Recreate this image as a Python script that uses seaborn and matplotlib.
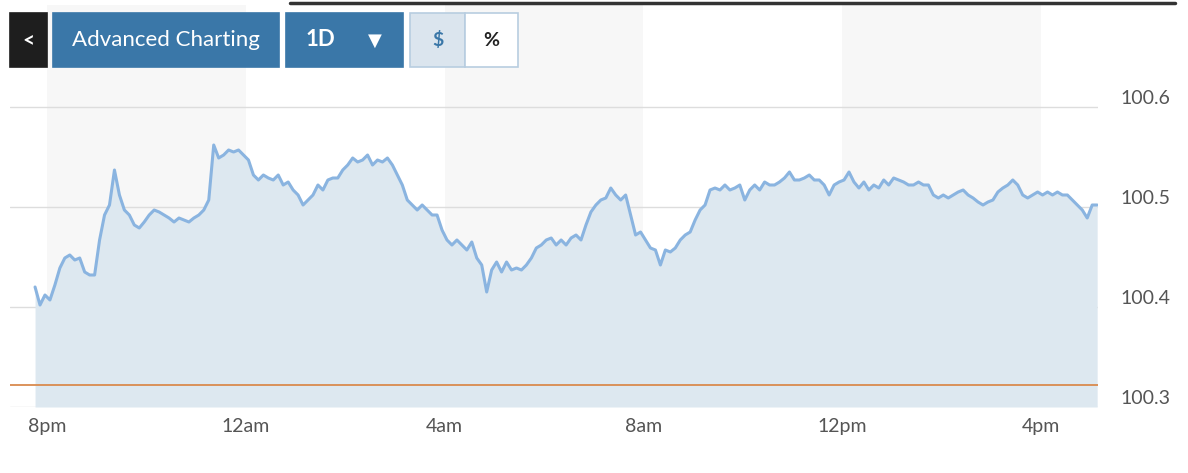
import numpy as np
import pandas as pd
import matplotlib
matplotlib.use("Agg")
import matplotlib.pyplot as plt
import matplotlib.transforms as mtransforms
from matplotlib.patches import Rectangle
import seaborn as sns

# price series, evenly spaced from ~7:45pm to ~4:55pm
prices = [
    100.420, 100.402, 100.412, 100.407, 100.422, 100.439, 100.449, 100.452, 100.447, 100.449,
    100.435, 100.432, 100.432, 100.467, 100.492, 100.502, 100.537, 100.512, 100.497, 100.492,
    100.482, 100.479, 100.485, 100.492, 100.497, 100.495, 100.492, 100.489, 100.485, 100.489,
    100.487, 100.485, 100.489, 100.492, 100.497, 100.507, 100.562, 100.549, 100.552, 100.557,
    100.555, 100.557, 100.552, 100.547, 100.532, 100.527, 100.532, 100.529, 100.527, 100.532,
    100.522, 100.525, 100.517, 100.512, 100.502, 100.507, 100.512, 100.522, 100.517, 100.527,
    100.529, 100.529, 100.537, 100.542, 100.549, 100.545, 100.547, 100.552, 100.542, 100.547,
    100.545, 100.549, 100.542, 100.532, 100.522, 100.507, 100.502, 100.497, 100.502, 100.497,
    100.492, 100.492, 100.477, 100.467, 100.462, 100.467, 100.462, 100.457, 100.465, 100.449,
    100.442, 100.415, 100.437, 100.445, 100.435, 100.445, 100.437, 100.439, 100.437, 100.442,
    100.449, 100.459, 100.462, 100.467, 100.469, 100.462, 100.467, 100.462, 100.469, 100.472,
    100.467, 100.482, 100.495, 100.502, 100.507, 100.509, 100.519, 100.512, 100.507, 100.512,
    100.492, 100.472, 100.475, 100.467, 100.459, 100.457, 100.442, 100.457, 100.455, 100.459,
    100.467, 100.472, 100.475, 100.487, 100.497, 100.502, 100.517, 100.519, 100.517, 100.522,
    100.517, 100.519, 100.522, 100.507, 100.517, 100.522, 100.517, 100.525, 100.522, 100.522,
    100.525, 100.529, 100.535, 100.527, 100.527, 100.529, 100.532, 100.527, 100.527, 100.522,
    100.512, 100.522, 100.525, 100.527, 100.535, 100.525, 100.519, 100.525, 100.517, 100.522,
    100.519, 100.527, 100.522, 100.529, 100.527, 100.525, 100.522, 100.522, 100.525, 100.522,
    100.522, 100.512, 100.509, 100.512, 100.509, 100.512, 100.515, 100.517, 100.512, 100.509,
    100.505, 100.502, 100.505, 100.507, 100.515, 100.519, 100.522, 100.527, 100.522, 100.512,
    100.509, 100.512, 100.515, 100.512, 100.515, 100.512, 100.515, 100.512, 100.512, 100.507,
    100.502, 100.497, 100.489, 100.502, 100.502,
]
start_hour, end_hour = 19.76, 41.13
prev_close = 100.322
tick_hours = [20, 24, 28, 32, 36, 40]
tick_labels = ["8pm", "12am", "4am", "8am", "12pm", "4pm"]
y_ticks = [100.3, 100.4, 100.5, 100.6]

df = pd.DataFrame({"hour": np.linspace(start_hour, end_hour, len(prices)), "price": prices})

sns.set_style("white")
plt.rcParams["font.family"] = ["Lato", "DejaVu Sans"]
W, H = 1188, 473
fig = plt.figure(figsize=(W / 100, H / 100), dpi=100)
ax = fig.add_axes([10 / W, 1 - 407 / H, 1088 / W, 402 / H])

for h in [20, 28, 36]:
    ax.axvspan(h, h + 4, color="#f7f7f7", zorder=0, lw=0)
ax.fill_between(df["hour"], df["price"], 100.3, color="#dde8f0", zorder=1, lw=0)
sns.lineplot(data=df, x="hour", y="price", ax=ax, color="#8ab4e0", lw=2.2, zorder=3)
ax.axhline(prev_close, color="#d98a4e", lw=1.3, zorder=4)

ax.set_xlim(19.256, 41.147)
ax.set_ylim(100.3, 100.702)
ax.set_yticks(y_ticks)
ax.yaxis.tick_right()
ax.set_yticklabels([f"{v:.1f}" for v in y_ticks], color="#555555", fontsize=14)
ax.set_xticks(tick_hours)
ax.set_xticklabels(tick_labels, color="#555555", fontsize=14)
ax.tick_params(axis="x", length=0, pad=8)
ax.tick_params(axis="y", length=0, pad=16)
shift = mtransforms.ScaledTranslation(0, 0.1, fig.dpi_scale_trans)
for lab in ax.get_yticklabels():
    lab.set_transform(lab.get_transform() + shift)
ax.grid(axis="y", color="#dddddd", lw=1)
for s in ax.spines.values():
    s.set_visible(False)
ax.set_xlabel("")
ax.set_ylabel("")

# top dark rule
fig.add_artist(plt.Line2D([290 / W, 1175 / W], [1 - 3 / H] * 2, color="#333333", lw=2.5))


def button(x0, x1, fc, ec, text, tc, fs=15, weight="normal", tx=None):
    y0, y1 = 13, 67
    fig.add_artist(Rectangle((x0 / W, 1 - y1 / H), (x1 - x0) / W, (y1 - y0) / H,
                             transform=fig.transFigure, fc=fc, ec=ec, lw=1.2))
    cx = (x0 + x1) / 2 if tx is None else tx
    fig.text(cx / W, 1 - (y0 + y1) / 2 / H, text, color=tc, fontsize=fs,
             ha="center", va="center", weight=weight)


button(10, 47, "#1e1e1e", "#1e1e1e", "<", "white", fs=15, weight="bold")
button(53, 279, "#3a77a8", "#3a77a8", "Advanced Charting", "white", fs=16)
button(286, 403, "#3a77a8", "#3a77a8", "1D", "white", fs=16, weight="bold", tx=320)
fig.text(375 / W, 1 - 41 / H, "▼", color="white", fontsize=13, ha="center", va="center",
         family="DejaVu Sans")
button(410, 465, "#dbe5ee", "#b8cde0", "$", "#3a77a8", fs=14, weight="bold")
button(465, 518, "white", "#b8cde0", "%", "#222222", fs=14, weight="bold")

fig.savefig("out.png", dpi=100)
